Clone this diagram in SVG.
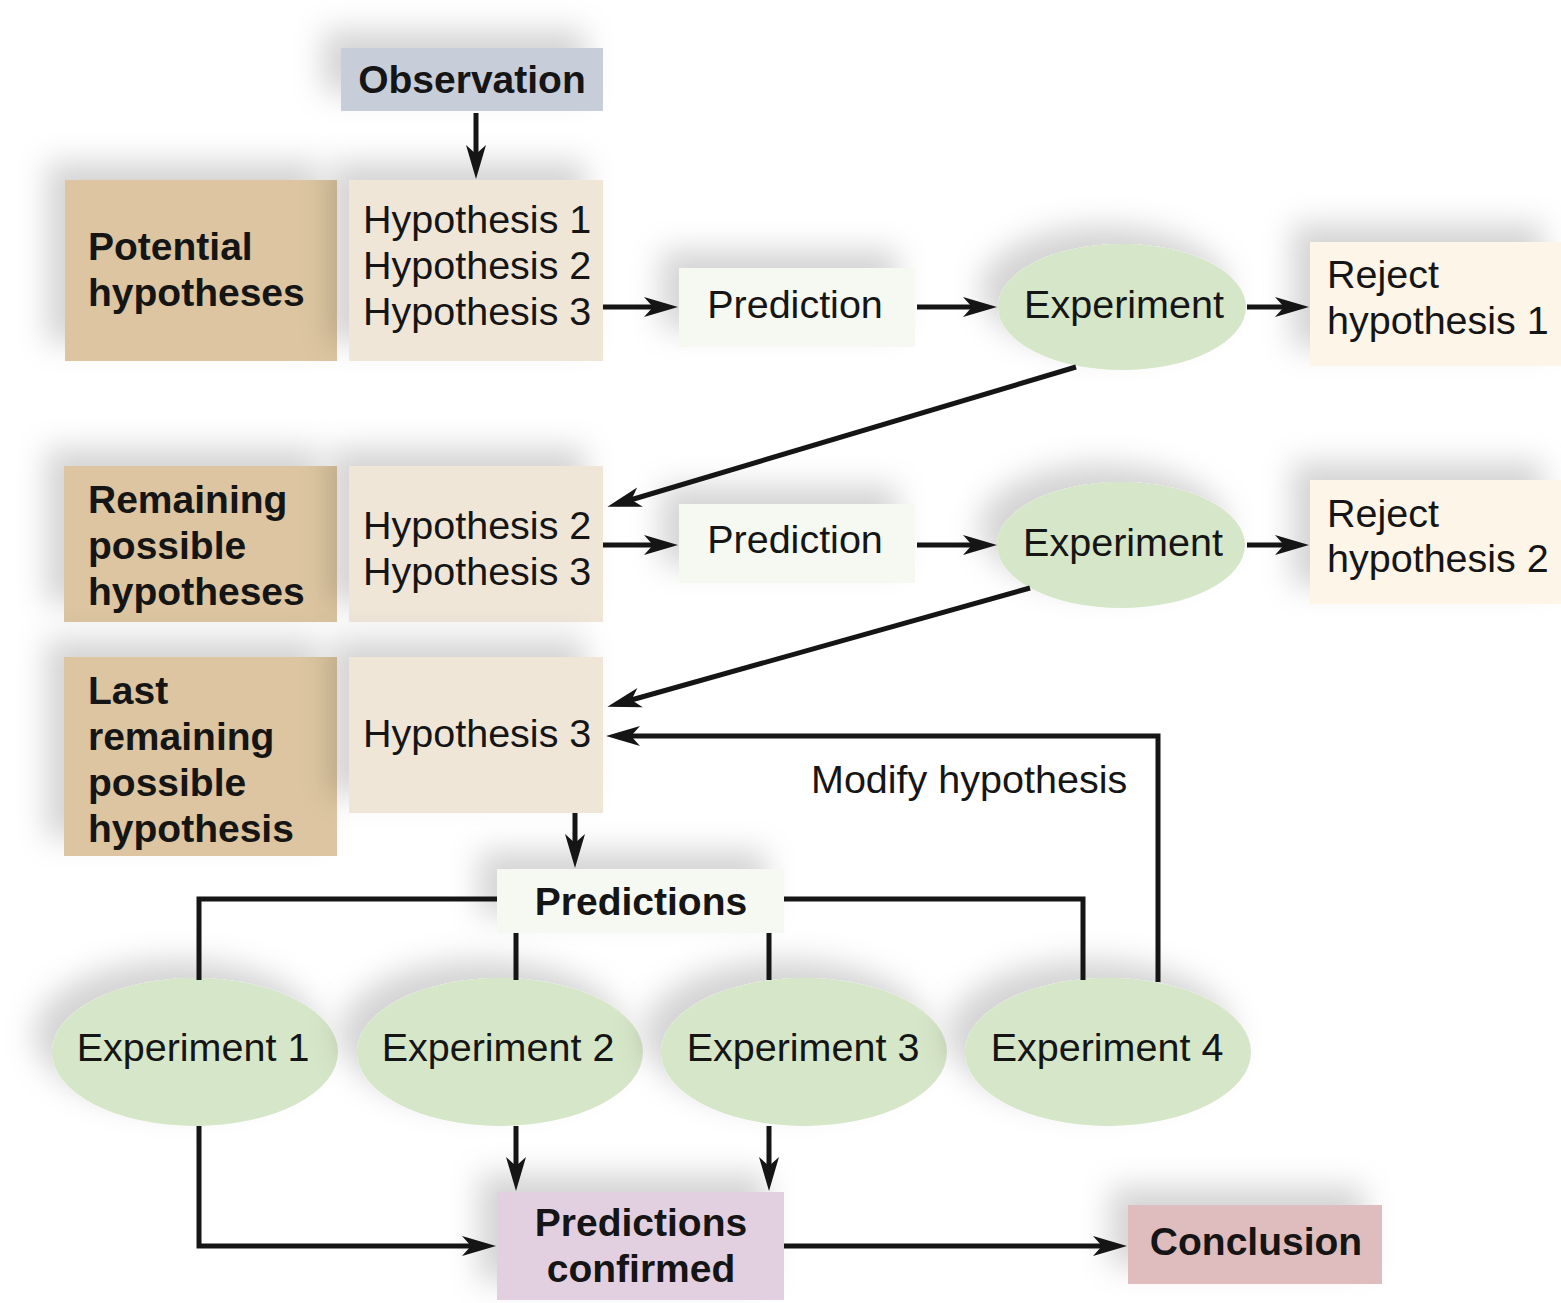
<svg xmlns="http://www.w3.org/2000/svg" width="1561" height="1303" viewBox="0 0 1561 1303">
<defs>
<filter id="sh" x="-40%" y="-80%" width="180%" height="240%">
<feGaussianBlur in="SourceAlpha" stdDeviation="15" result="b"/>
<feOffset in="b" dx="-18" dy="-18" result="o"/>
<feFlood flood-color="#000" flood-opacity="0.17"/>
<feComposite in2="o" operator="in" result="s"/>
<feMerge><feMergeNode in="s"/><feMergeNode in="SourceGraphic"/></feMerge>
</filter>
<marker id="ah" markerUnits="userSpaceOnUse" markerWidth="36" markerHeight="26" viewBox="0 0 36 26" refX="24" refY="13" orient="auto">
<path d="M0,3 L34,13 L0,23 L9,13 Z" fill="#151515"/>
</marker>
</defs>
<style>
.t{font-family:"Liberation Sans",Arial,Helvetica,sans-serif;font-size:39.5px;fill:#151515}
.b{font-family:"Liberation Sans",Arial,Helvetica,sans-serif;font-size:39px;font-weight:bold;fill:#151515}
.c{text-anchor:middle}
.ln{fill:none;stroke:#151515;stroke-width:5}
.ar{marker-end:url(#ah)}
.obs{fill:#c8ced9}
.tan{fill:#dcc5a0}
.hyp{fill:#f0e6d8}
.pred{fill:#f6f9f1}
.exp{fill:#d6e6c8}
.rej{fill:#fcf5e8}
.conf{fill:#e2d0e0}
.conc{fill:#dfbdbf}
</style>
<rect width="1561" height="1303" fill="#fff"/>

<g id="observation"><rect class="obs" filter="url(#sh)" x="341" y="48" width="262" height="63"/><text class="b c" x="472" y="93">Observation</text></g>

<g id="potential"><rect class="tan" filter="url(#sh)" x="65" y="180" width="272" height="181"/><text class="b" x="88" y="260">Potential</text><text class="b" x="88" y="306">hypotheses</text></g>
<g id="hyp123"><rect class="hyp" filter="url(#sh)" x="349" y="180" width="254" height="181"/><text class="t" x="363" y="233">Hypothesis 1</text><text class="t" x="363" y="279">Hypothesis 2</text><text class="t" x="363" y="325">Hypothesis 3</text></g>
<g id="prediction1"><rect class="pred" filter="url(#sh)" x="679" y="268" width="236" height="79"/><text class="t c" x="795" y="318">Prediction</text></g>
<g id="experimentA"><ellipse class="exp" filter="url(#sh)" cx="1122" cy="307" rx="124" ry="63"/><text class="t c" x="1124" y="318">Experiment</text></g>
<g id="reject1"><rect class="rej" filter="url(#sh)" x="1310" y="242" width="251" height="124"/><text class="t" x="1327" y="288">Reject</text><text class="t" x="1327" y="334">hypothesis 1</text></g>

<g id="remaining"><rect class="tan" filter="url(#sh)" x="64" y="466" width="273" height="156"/><text class="b" x="88" y="513">Remaining</text><text class="b" x="88" y="559">possible</text><text class="b" x="88" y="605">hypotheses</text></g>
<g id="hyp23"><rect class="hyp" filter="url(#sh)" x="349" y="466" width="254" height="156"/><text class="t" x="363" y="539">Hypothesis 2</text><text class="t" x="363" y="585">Hypothesis 3</text></g>
<g id="prediction2"><rect class="pred" filter="url(#sh)" x="679" y="504" width="236" height="79"/><text class="t c" x="795" y="553">Prediction</text></g>
<g id="experimentB"><ellipse class="exp" filter="url(#sh)" cx="1121" cy="545" rx="124" ry="63"/><text class="t c" x="1123" y="556">Experiment</text></g>
<g id="reject2"><rect class="rej" filter="url(#sh)" x="1310" y="480" width="251" height="124"/><text class="t" x="1327" y="527">Reject</text><text class="t" x="1327" y="572">hypothesis 2</text></g>

<g id="last"><rect class="tan" filter="url(#sh)" x="64" y="657" width="273" height="199"/><text class="b" x="88" y="704">Last</text><text class="b" x="88" y="750">remaining</text><text class="b" x="88" y="796">possible</text><text class="b" x="88" y="842">hypothesis</text></g>
<g id="hyp3"><rect class="hyp" filter="url(#sh)" x="349" y="657" width="254" height="156"/><text class="t" x="363" y="747">Hypothesis 3</text></g>

<g id="predictions"><rect class="pred" filter="url(#sh)" x="497" y="869" width="287" height="64"/><text class="b c" x="641" y="915">Predictions</text></g>
<g id="exp1"><ellipse class="exp" filter="url(#sh)" cx="195" cy="1052" rx="143" ry="74"/><text class="t c" x="193" y="1061">Experiment 1</text></g>
<g id="exp2"><ellipse class="exp" filter="url(#sh)" cx="500" cy="1052" rx="143" ry="74"/><text class="t c" x="498" y="1061">Experiment 2</text></g>
<g id="exp3"><ellipse class="exp" filter="url(#sh)" cx="804" cy="1052" rx="143" ry="74"/><text class="t c" x="803" y="1061">Experiment 3</text></g>
<g id="exp4"><ellipse class="exp" filter="url(#sh)" cx="1108" cy="1052" rx="143" ry="74"/><text class="t c" x="1107" y="1061">Experiment 4</text></g>
<g id="confirmed"><rect class="conf" filter="url(#sh)" x="497" y="1192" width="287" height="108"/><text class="b c" x="641" y="1236">Predictions</text><text class="b c" x="641" y="1282">confirmed</text></g>
<g id="conclusion"><rect class="conc" filter="url(#sh)" x="1128" y="1205" width="254" height="79"/><text class="b c" x="1256" y="1255">Conclusion</text></g>

<g id="modify-label"><text class="t" x="811" y="793">Modify hypothesis</text></g>

<g id="connectors">
<path class="ln ar" d="M476,113 V169"/>
<path class="ln ar" d="M603,307 H668"/>
<path class="ln ar" d="M917,307 H987"/>
<path class="ln ar" d="M1247,307 H1299"/>
<path class="ln ar" d="M1076,367 L617,504"/>
<path class="ln ar" d="M603,545 H668"/>
<path class="ln ar" d="M917,545 H987"/>
<path class="ln ar" d="M1247,545 H1299"/>
<path class="ln ar" d="M1030,588 L617,704"/>
<path class="ln ar" d="M1158,982 V736 H616"/>
<path class="ln ar" d="M575,813 V858"/>
<path class="ln" d="M497,899 H199 V980"/>
<path class="ln" d="M516,933 V980"/>
<path class="ln" d="M769,933 V980"/>
<path class="ln" d="M784,899 H1083 V980"/>
<path class="ln ar" d="M199,1126 V1246 H486"/>
<path class="ln ar" d="M516,1126 V1181"/>
<path class="ln ar" d="M769,1126 V1181"/>
<path class="ln ar" d="M784,1246 H1117"/>
</g>
</svg>
